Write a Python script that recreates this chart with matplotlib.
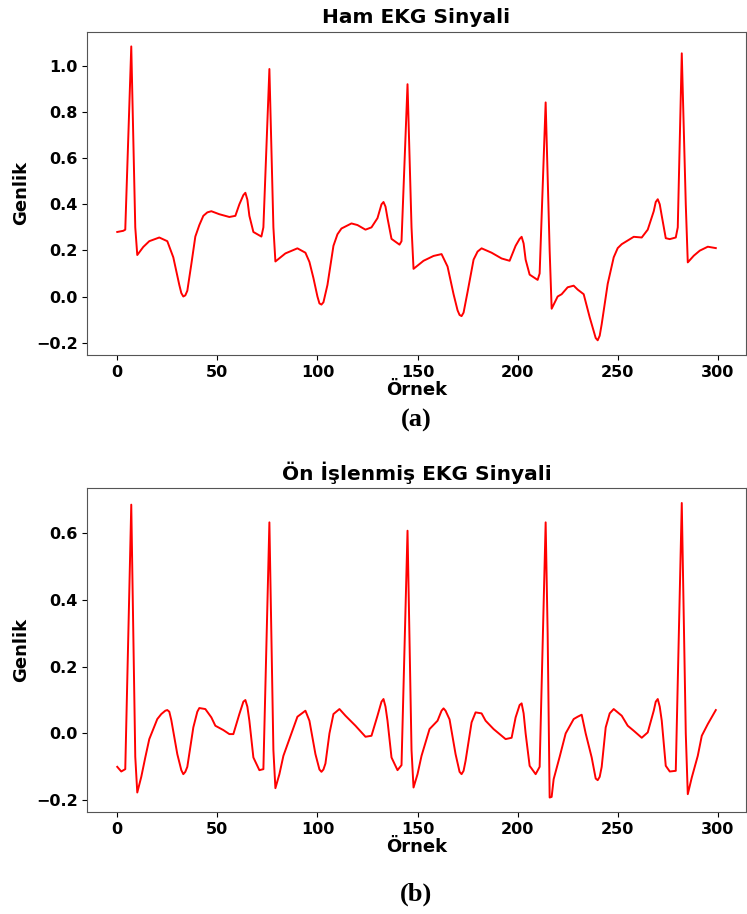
import numpy as np
import matplotlib.pyplot as plt

# Ham (raw) EKG signal
ham_x = [0, 3, 4, 7, 9, 10, 13, 16, 21, 25, 28, 31, 32, 33, 34, 35, 37, 39, 41, 43,
         45, 47, 51, 56, 59, 61, 63, 64, 65, 66, 68, 72, 73, 76, 78, 79, 84, 90, 94,
         96, 98, 100, 101, 102, 103, 105, 108, 110, 112, 117, 120, 124, 127, 130, 132,
         133, 134, 135, 137, 141, 142, 145, 147, 148, 153, 158, 162, 165, 168, 170,
         171, 172, 173, 175, 178, 180, 182, 187, 192, 196, 199, 201, 202, 203, 204,
         206, 210, 211, 214, 216, 217, 220, 222, 225, 228, 230, 233, 236, 238, 239,
         240, 241, 242, 245, 248, 250, 252, 258, 262, 265, 268, 269, 270, 271, 272,
         274, 276, 279, 280, 282, 284, 285, 288, 291, 295, 299]
ham_y = [0.28, 0.285, 0.29, 1.085, 0.30, 0.18, 0.215, 0.24, 0.256, 0.24, 0.17, 0.05,
         0.015, 0.0, 0.005, 0.025, 0.14, 0.26, 0.31, 0.35, 0.365, 0.37, 0.357, 0.345,
         0.35, 0.40, 0.44, 0.45, 0.42, 0.35, 0.28, 0.26, 0.30, 0.987, 0.30, 0.152,
         0.187, 0.209, 0.19, 0.15, 0.08, 0.0, -0.03, -0.035, -0.025, 0.05, 0.22, 0.27,
         0.295, 0.317, 0.31, 0.29, 0.30, 0.34, 0.40, 0.41, 0.39, 0.34, 0.25, 0.225,
         0.24, 0.921, 0.30, 0.12, 0.155, 0.176, 0.184, 0.13, 0.01, -0.06, -0.08,
         -0.085, -0.07, 0.02, 0.16, 0.195, 0.209, 0.19, 0.165, 0.155, 0.22, 0.25,
         0.259, 0.23, 0.16, 0.095, 0.072, 0.10, 0.842, 0.20, -0.053, 0.0, 0.01, 0.04,
         0.047, 0.03, 0.01, -0.09, -0.15, -0.18, -0.19, -0.17, -0.12, 0.055, 0.17,
         0.21, 0.227, 0.259, 0.256, 0.29, 0.37, 0.41, 0.422, 0.40, 0.35, 0.253, 0.249,
         0.256, 0.30, 1.055, 0.40, 0.148, 0.177, 0.199, 0.216, 0.21]

# Preprocessed EKG signal
on_x = [0, 2, 4, 7, 9, 10, 12, 14, 16, 20, 22, 24, 25, 26, 27, 30, 32, 33, 34, 35,
        38, 40, 41, 44, 47, 49, 53, 56, 58, 61, 63, 64, 65, 66, 68, 71, 73, 76, 78,
        79, 81, 83, 87, 90, 94, 96, 99, 101, 102, 103, 104, 106, 108, 111, 114, 119,
        124, 127, 130, 132, 133, 134, 135, 137, 140, 142, 145, 147, 148, 150, 152,
        156, 160, 162, 163, 164, 166, 169, 171, 172, 173, 174, 177, 179, 182, 184,
        188, 192, 194, 197, 199, 201, 202, 203, 204, 206, 209, 211, 214, 215, 216,
        217, 218, 221, 224, 228, 230, 232, 234, 237, 239, 240, 241, 242, 244, 246,
        248, 252, 255, 258, 262, 265, 268, 269, 270, 271, 272, 274, 276, 279, 282,
        284, 285, 287, 290, 292, 295, 299]
on_y = [-0.10, -0.114, -0.107, 0.685, -0.07, -0.177, -0.13, -0.072, -0.017, 0.043,
        0.058, 0.068, 0.07, 0.065, 0.04, -0.062, -0.11, -0.122, -0.115, -0.10, 0.018,
        0.065, 0.076, 0.073, 0.048, 0.023, 0.01, -0.002, -0.002, 0.058, 0.095, 0.10,
        0.08, 0.038, -0.072, -0.11, -0.107, 0.632, -0.05, -0.164, -0.122, -0.067, 0.0,
        0.05, 0.068, 0.038, -0.062, -0.108, -0.115, -0.108, -0.09, 0.0, 0.058, 0.073,
        0.053, 0.023, -0.01, -0.007, 0.053, 0.095, 0.103, 0.08, 0.038, -0.072, -0.11,
        -0.095, 0.607, -0.05, -0.162, -0.122, -0.067, 0.013, 0.038, 0.068, 0.075,
        0.068, 0.042, -0.062, -0.115, -0.122, -0.112, -0.082, 0.033, 0.063, 0.06,
        0.038, 0.013, -0.007, -0.017, -0.013, 0.048, 0.085, 0.09, 0.06, 0.0, -0.097,
        -0.122, -0.10, 0.632, 0.3, -0.192, -0.19, -0.137, -0.07, 0.0, 0.043, 0.05,
        0.056, 0.0, -0.072, -0.135, -0.14, -0.13, -0.10, 0.018, 0.06, 0.073, 0.053,
        0.023, 0.008, -0.013, 0.003, 0.068, 0.095, 0.103, 0.08, 0.038, -0.097, -0.114,
        -0.112, 0.69, 0.0, -0.182, -0.132, -0.067, -0.007, 0.028, 0.07]

fig = plt.figure(figsize=(7.47, 9.14), dpi=100, facecolor='white')
ax1 = fig.add_axes([0.1169, 0.6116, 0.8814, 0.3537])
ax2 = fig.add_axes([0.1169, 0.1113, 0.8814, 0.3545])

panels = [(ax1, ham_x, ham_y, 'Ham EKG Sinyali'),
          (ax2, on_x, on_y, 'Ön İşlenmiş EKG Sinyali')]

for ax, xs, ys, title in panels:
    ax.plot(xs, ys, color='red', lw=1.4)
    ax.set_title(title, fontsize=14.5, fontweight='bold')
    ax.set_xlabel('Örnek', fontsize=13, fontweight='bold', labelpad=1)
    ax.set_ylabel('Genlik', fontsize=13, fontweight='bold')
    ax.set_xticks([0, 50, 100, 150, 200, 250, 300])
    ax.tick_params(labelsize=11.5)
    for lab in ax.get_xticklabels() + ax.get_yticklabels():
        lab.set_fontweight('bold')
    for sp in ax.spines.values():
        sp.set_color('#555555')

ax1.set_yticks([-0.2, 0.0, 0.2, 0.4, 0.6, 0.8, 1.0])
ax2.set_yticks([-0.2, 0.0, 0.2, 0.4, 0.6])

fig.text(0.557, 0.540, '(a)', fontsize=19, fontweight='bold',
         family='Liberation Serif', ha='center', va='center')
fig.text(0.557, 0.022, '(b)', fontsize=19, fontweight='bold',
         family='Liberation Serif', ha='center', va='center')

plt.savefig('out.png', dpi=100)
